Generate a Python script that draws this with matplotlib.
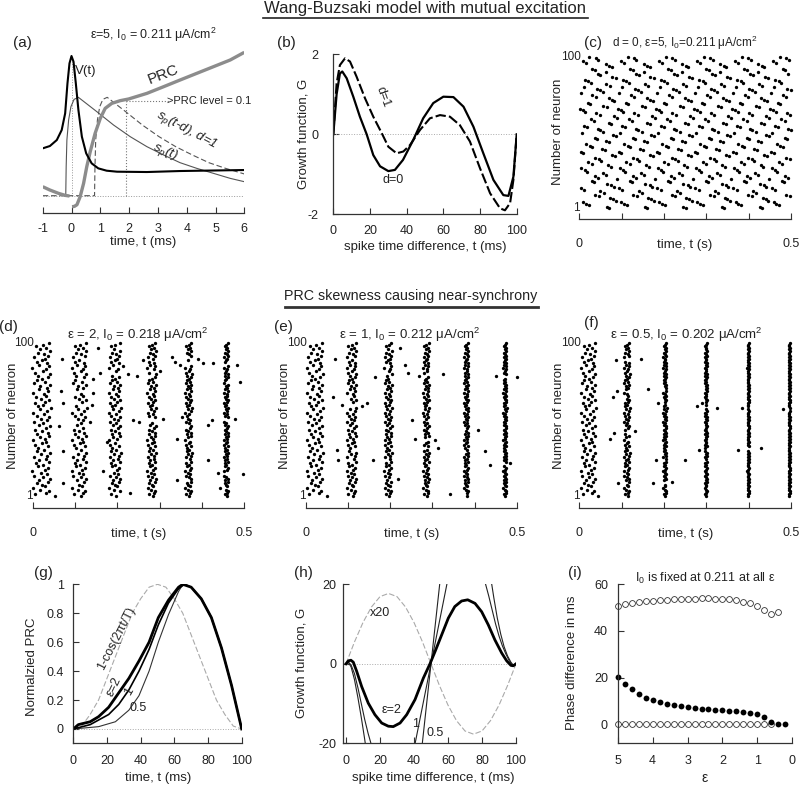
import numpy as np
from matplotlib import pyplot as plt
from matplotlib.lines import Line2D

plt.rcParams['font.family'] = ['Liberation Sans', 'DejaVu Sans']
plt.rcParams['mathtext.fontset'] = 'custom'
plt.rcParams['mathtext.rm'] = 'Liberation Sans'
plt.rcParams['mathtext.it'] = 'Liberation Sans:italic'
plt.rcParams['mathtext.default'] = 'regular'
plt.rcParams['axes.unicode_minus'] = False
plt.rcParams['text.color'] = '#222222'

# ---------------- (a) spike shape, synaptic current and PRC ----------------
v_t = [-1, -0.75, -0.51, -0.34, -0.22, -0.14, -0.07, 0, 0.07, 0.15, 0.24, 0.36,
       0.51, 0.70, 0.93, 1.22, 1.58, 2.62, 3.77, 6]
v_val = [1.42, 1.49, 1.67, 1.97, 2.47, 3.37, 3.97, 4.19, 4.02, 3.37, 2.57, 1.77,
         1.27, 0.97, 0.82, 0.75, 0.72, 0.71, 0.74, 0.77]
prc_pre_t = [-1, -0.75, -0.45, -0.22, -0.07]
prc_pre = [0.27, 0.17, 0.07, 0.01, -0.01]
prc_t = [0.02, 0.1, 0.19, 0.3, 0.42, 0.53, 0.65, 0.82, 1.0, 1.17, 1.4, 1.69,
         1.98, 2.62, 3.2, 3.77, 4.35, 4.93, 5.51, 6]
prc_val = [-0.33, -0.32, -0.27, -0.03, 0.37, 0.87, 1.32, 1.87, 2.32, 2.62, 2.77,
           2.85, 2.9, 3.07, 3.27, 3.47, 3.67, 3.87, 4.07, 4.3]
sp_t = [-2, -0.2, -0.185, -0.16, -0.1, -0.02, 0.09, 0.24, 0.88, 1.46, 2.04, 2.62,
        3.2, 3.77, 4.35, 4.93, 5.51, 6]
sp_val = [0, 0, 0.87, 1.67, 2.27, 2.67, 2.89, 2.95, 2.52, 2.12, 1.77, 1.47, 1.22,
          0.99, 0.82, 0.67, 0.52, 0.42]
delay_d = 1.0
prc_level_t = 1.9
prc_level = 2.84

# ---------------- (b) growth function for d=0 and d=1 ----------------
g0_t = [0, 1.8, 3.6, 4.9, 7.3, 10.9, 14.5, 18.2, 21.8, 25.5, 30, 33.6, 38, 43.6,
        49, 54.5, 60, 65.5, 71, 76.4, 81.8, 87.3, 92.7, 95.5, 98.2, 100]
g0_val = [0, 1.0, 1.52, 1.57, 1.4, 0.94, 0.44, 0, -0.52, -0.8, -0.92, -0.89, -0.64,
          -0.14, 0.4, 0.78, 0.94, 0.93, 0.69, 0.19, -0.475, -1.14, -1.52, -1.54,
          -1.06, 0]
g1_t = [0, 1.8, 3.6, 6.4, 9.1, 12.7, 17.3, 21.8, 26.4, 30, 34.5, 38.2, 41.8, 47.3,
        52.7, 58.2, 63.6, 69, 74.5, 80, 85.5, 90.9, 93.6, 96.4, 98.2, 100]
g1_val = [0, 1.27, 1.73, 1.9, 1.82, 1.44, 0.9, 0.44, 0.03, -0.31, -0.475, -0.43,
          -0.27, 0.11, 0.4, 0.48, 0.44, 0.23, -0.18, -0.85, -1.475, -1.85, -1.9,
          -1.72, -1.14, 0]

# ---------------- rasters ----------------
# (c): phase of each neuron (ms) inside the splay-like cycle
splay_phase_ms = [71, 66, 22, 15, 9, 86, 80, 73, 47, 38,
                  58, 50, 12, 4, 81, 76, 66, 34, 29, 89,
                  44, 37, 63, 55, 18, 13, 5, 75, 68, 29,
                  21, 52, 47, 38, 84, 77, 9, 3, 60, 53,
                  30, 25, 16, 70, 62, 41, 36, 87, 80, 6,
                  57, 49, 43, 19, 12, 76, 70, 35, 27, 88,
                  81, 48, 40, 14, 8, 1, 65, 57, 25, 20,
                  83, 77, 69, 39, 31, 3, 55, 49, 41, 10,
                  72, 64, 27, 21, 13, 86, 78, 50, 44, 62,
                  36, 30, 77, 71, 63, 15, 8, 45, 39, 24]
splay_period = 0.09

# (d)-(f): offset (ms) of each neuron from the population burst
jitter_ms = [5, -12, 9, 14, -3, -16, 7, 0, -9, 12,
             -6, 16, 3, -14, 10, -1, -18, 6, 13, -8,
             2, -11, 15, -5, 8, -15, 11, -2, 17, -10,
             4, -7, 13, -13, 1, 9, -17, 6, -4, 15,
             -9, 12, 0, -12, 8, 16, -6, 3, -15, 10,
             -2, 14, -10, 5, -16, 11, -4, 18, -8, 2,
             -13, 7, 15, -1, -11, 9, 4, -17, 13, -6,
             10, -3, 16, -14, 6, -9, 1, 12, -7, 17,
             -12, 3, 8, -18, 14, -5, 11, -10, 0, 7,
             -15, 13, 5, -8, 16, -3, 9, -11, 2, 15]

d_bursts = [0.021, 0.110, 0.194, 0.281, 0.368, 0.457]
d_spread = [1.2, 1.0, 0.8, 0.6, 0.45, 0.3]
d_outliers = {(90, 1): 0.0685, (69, 1): 0.067, (61, 1): 0.072, (46, 1): 0.063,
              (30, 1): 0.071, (9, 1): 0.071, (97, 2): 0.154, (81, 2): 0.159,
              (77, 1): 0.143, (60, 1): 0.139, (49, 1): 0.135, (68, 1): 0.143,
              (17, 2): 0.167, (36, 2): 0.175, (80, 2): 0.226, (85, 2): 0.214,
              (79, 3): 0.246, (3, 2): 0.23, (50, 3): 0.238, (49, 3): 0.25,
              (51, 3): 0.309, (82, 3): 0.301, (91, 4): 0.328, (88, 4): 0.336,
              (86, 4): 0.348, (52, 4): 0.352, (38, 4): 0.340, (11, 4): 0.340,
              (90, 4): 0.391, (87, 4): 0.403, (50, 5): 0.423, (47, 4): 0.415,
              (24, 4): 0.415, (87, 5): 0.427, (16, 5): 0.439, (6, 5): 0.443,
              (86, 5): 0.482, (75, 5): 0.49, (51, 5): 0.478, (15, 5): 0.498,
              (89, 3): 0.261, (1, 0): 0.053}

e_bursts = [0.021, 0.108, 0.195, 0.285, 0.380, 0.472]
e_spread = [1.1, 0.65, 0.5, 0.4, 0.3, 0.22]
e_outliers = {(90, 1): 0.070, (65, 1): 0.063, (60, 1): 0.085, (61, 1): 0.144,
              (59, 1): 0.132, (31, 1): 0.073, (24, 1): 0.077, (78, 2): 0.164,
              (24, 2): 0.16, (97, 2): 0.223, (86, 2): 0.235, (81, 2): 0.243,
              (50, 3): 0.251, (38, 3): 0.259, (37, 3): 0.306, (32, 3): 0.314,
              (12, 2): 0.219, (79, 3): 0.267, (80, 3): 0.326, (2, 4): 0.342,
              (44, 4): 0.409, (30, 4): 0.425, (21, 5): 0.437, (22, 5): 0.484,
              (79, 5): 0.452, (78, 5): 0.5, (1, 0): 0.049}

f_bursts = [0.021, 0.112, 0.202, 0.299, 0.399, 0.496]
f_spread = [1.0, 0.4, 0.22, 0.15, 0.1, 0.08]
f_outliers = {(89, 1): 0.0866, (90, 1): 0.146, (69, 1): 0.09, (65, 1): 0.079,
              (70, 2): 0.163, (61, 2): 0.185, (59, 3): 0.277, (61, 3): 0.289,
              (58, 3): 0.326, (58, 4): 0.385, (57, 5): 0.480, (38, 1): 0.072,
              (42, 1): 0.083, (43, 1): 0.131, (31, 3): 0.283, (31, 4): 0.376,
              (32, 4): 0.428, (24, 2): 0.181, (24, 3): 0.250, (9, 1): 0.092,
              (9, 2): 0.175, (10, 2): 0.22, (1, 0): 0.045}

# ---------------- (g) normalized PRCs ----------------
ref_t = [0, 5, 10, 15, 20, 25, 30, 35, 40, 45, 50, 55, 60, 65, 70, 75, 80, 85, 90,
         95, 100]
cos_prc = [0, 0.02, 0.1, 0.2, 0.35, 0.5, 0.65, 0.8, 0.9, 0.98, 1, 0.98, 0.9, 0.8,
           0.65, 0.5, 0.35, 0.2, 0.1, 0.02, 0]
prc2_t = [0, 3, 10, 15, 21, 27, 33, 39, 45, 50.5, 56.5, 62.5, 65, 70, 76, 82, 88, 94, 100]
prc2 = [0, 0.03, 0.05, 0.085, 0.15, 0.25, 0.35, 0.47, 0.6, 0.77, 0.89, 0.98, 1, 0.98,
        0.9, 0.77, 0.56, 0.3, 0]
prc1_t = [0, 10, 21, 27, 33, 39, 45, 50.5, 56.5, 62.5, 66, 70, 76, 82, 88, 94, 100]
prc1 = [0, 0.03, 0.1, 0.17, 0.27, 0.4, 0.55, 0.72, 0.87, 0.97, 1, 0.98, 0.9, 0.77,
        0.56, 0.3, 0]
prc05_t = [0, 15, 25, 33, 39, 45, 50.5, 56.5, 62.5, 65, 70, 76, 82, 88, 94, 100]
prc05 = [0, 0.016, 0.05, 0.13, 0.23, 0.4, 0.6, 0.79, 0.95, 1.0, 0.98, 0.9, 0.77, 0.56,
         0.3, 0]

# ---------------- (h) growth functions ----------------
x20_g = [0, 5.5, 10.4, 14.3, 16.9, 17.7, 16.9, 14.3, 10.4, 5.5, 0, -5.5, -10.4,
         -14.3, -16.9, -17.7, -16.9, -14.3, -10.4, -5.5, 0]
h2_t = [0, 1.4, 2.9, 4.3, 6.3, 9.2, 13.1, 17, 21, 24.9, 27.8, 31.8, 35.7, 40.6, 45.5,
        49.4, 52.4, 56.3, 60.2, 64, 68, 71.6, 75.9, 79.8, 83.7, 87.6, 91.6, 94.5, 97,
        98.4, 100]
h2 = [0, 0.75, 0.9, 0.4, -1.9, -5.7, -9.9, -12.8, -14.9, -15.7, -15.8, -14.9, -12.8,
      -9.0, -3.6, 0, 3.1, 7.3, 11.5, 14.4, 15.8, 16.1, 15.2, 13.1, 9.8, 6.0, 2.7, 0.75,
      -0.4, -0.5, 0]
h1_t = [0, 1.5, 3, 5, 7, 9, 11, 13, 15, 17, np.nan, 39.5, 50, 60.5, np.nan,
        81.5, 84, 86, 88, 90, 92, 94, 96, 98, 100]
h1 = [0, 0.4, -0.3, -2.5, -6, -10, -14, -17.5, -20.5, -24, np.nan, -22.5, 0, 22.5,
      np.nan, 21, 17, 13.5, 10, 7, 4.5, 2.5, 0.8, -0.4, 0]
h05_t = [0, 1.5, 3, 5, 7, 9, 11, 12, np.nan, 44, 50, 56, np.nan,
         85, 87, 89, 91, 93, 95, 97, 98.5, 100]
h05 = [0, 0.3, -0.8, -4, -8.5, -13.5, -19, -22, np.nan, -23.5, 0, 23.5, np.nan,
       22, 16.5, 11.5, 7.5, 4.3, 2, 0.4, -0.4, 0]

# ---------------- (i) phase difference vs epsilon ----------------
eps = [5, 4.8, 4.6, 4.4, 4.2, 4, 3.8, 3.6, 3.4, 3.2, 3, 2.8, 2.6, 2.4, 2.2, 2, 1.8,
       1.6, 1.4, 1.2, 1, 0.8, 0.6, 0.4, 0.2]
stable_lag = [20.2, 17.2, 15.1, 13.1, 11.5, 10.5, 9.5, 8.8, 8.3, 7.7, 7.3, 7.0, 6.7,
              6.4, 6.1, 6.0, 5.7, 5.6, 5.3, 5.0, 4.3, 3.1, 1.1, 0.1, 0]
unstable_anti = [50.6, 51.4, 51.9, 52.3, 52.7, 53.0, 53.3, 53.4, 53.6, 53.7, 53.8,
                 53.8, 54.0, 54.0, 53.8, 53.7, 53.6, 53.3, 52.6, 51.9, 50.7, 49.0,
                 47.3, 48.0]
unstable_sync = [0] * 23

W, H = 800, 786
TICK_FS = 9
LABEL_FS = 9.5
fig = plt.figure(figsize=(W / 100, H / 100), dpi=100)


def add_box(left, right, top, bottom):
    """axes from a box given in pixels of the 800x786 picture"""
    ax = fig.add_axes([left / W, 1 - bottom / H, (right - left) / W, (bottom - top) / H])
    ax.patch.set_alpha(0)
    return ax


def ftext(x, y, s, **kw):
    kw.setdefault('ha', 'center')
    kw.setdefault('va', 'center')
    kw.setdefault('fontsize', LABEL_FS)
    fig.text(x / W, 1 - y / H, s, **kw)


def tidy(ax, left=True, xpad=7.5, ypad=7):
    for side in ['top', 'right']:
        ax.spines[side].set_visible(False)
    ax.spines['left'].set_visible(left)
    for side in ['left', 'bottom']:
        ax.spines[side].set_linewidth(0.9)
        ax.spines[side].set_color('#333333')
    ax.tick_params(direction='in', length=4, width=0.8, labelsize=TICK_FS,
                   colors='#333333', labelcolor='#222222')
    ax.tick_params(axis='x', pad=xpad)
    ax.tick_params(axis='y', pad=ypad)
    if not left:
        ax.set_yticks([])


def burst_spikes(bursts, spread, outliers):
    ts, ns = [], []
    for k, (c, s) in enumerate(zip(bursts, spread)):
        for n in range(1, 101):
            ts.append(outliers.get((n, k), c + jitter_ms[n - 1] * s / 1000))
            ns.append(n)
    return ts, ns


def splay_spikes():
    ts, ns = [], []
    for n, ph in enumerate(splay_phase_ms, 1):
        t = ph / 1000
        while t < 0.5:
            ts.append(t)
            ns.append(n)
            t += splay_period
    return ts, ns


def raster(ax, ts, ns, ybottom):
    ax.plot(ts, ns, 'o', ms=2.4, color='k', mew=0, clip_on=False)
    ax.set_xlim(0, 0.5)
    ax.set_ylim(ybottom, 100)
    tidy(ax, left=False, xpad=14)
    ax.set_xticks([0, 0.1, 0.2, 0.3, 0.4, 0.5])
    ax.set_xticklabels(['0', '', '', '', '', '0.5'])
    ax.text(0.003, 100, '100', ha='right', va='center', fontsize=TICK_FS - 0.5)
    ax.text(0.0, 1, '1', ha='right', va='center', fontsize=TICK_FS - 0.5)


# ---- titles
ftext(425, 9, 'Wang-Buzsaki model with mutual excitation', fontsize=12)
fig.add_artist(Line2D([263 / W, 588 / W], [1 - 18 / H] * 2, lw=1.2, color='#222222'))
ftext(411, 296, 'PRC skewness causing near-synchrony', fontsize=10.3)
fig.add_artist(Line2D([285 / W, 538 / W], [1 - 307.5 / H] * 2, lw=2, color='#333333'))

# ---- (a)
ax = add_box(42.7, 244.3, 45, 212.7)
ax.plot([-1, 6], [0, 0], ':', color='#999999', lw=0.7)
ax.plot([0, 0], [0, 4.15], ':', color='#999999', lw=0.7)
ax.plot([prc_level_t, prc_level_t], [0, prc_level], ':', color='#777777', lw=0.8)
ax.plot([prc_level_t, 3.38], [prc_level, prc_level], ':', color='#777777', lw=0.8)
sp_t_arr = np.array(sp_t)
sp_arr = np.array(sp_val)
shown = sp_t_arr >= -1
ax.plot(sp_t_arr[shown], sp_arr[shown], color='#555555', lw=0.8)
ax.plot(sp_t_arr + delay_d, sp_arr, color='#555555', lw=0.8, dashes=(5, 2.5))
ax.plot(prc_pre_t, prc_pre, color='#8c8c8c', lw=2.4, solid_capstyle='butt')
ax.plot(prc_t, prc_val, color='#8c8c8c', lw=2.4, solid_capstyle='butt')
ax.plot(v_t, v_val, color='k', lw=1.5)
ax.set_xlim(-1, 6)
ax.set_ylim(-0.51, 4.52)
tidy(ax, left=False)
ax.set_xticks(range(-1, 7))
ax.text(0.12, 3.75, 'V(t)', fontsize=9.5, ha='left', va='center')
ax.text(3.2, 3.62, 'PRC', fontsize=11, rotation=21, ha='center', va='center')
ax.text(3.33, prc_level, '>PRC level = 0.1', fontsize=8, ha='left', va='center')
ax.text(4.0, 1.97, r'$\mathit{s_p}$(t-d), d=1', fontsize=9.5, style='italic',
        rotation=-28, ha='center', va='center')
ax.text(3.25, 1.3, r'$\mathit{s_p}$(t)', fontsize=9.5, style='italic',
        rotation=-22, ha='center', va='center')
ftext(22.7, 43.3, '(a)', fontsize=11)
ftext(153.3, 35, 'ε=5, $I_0$ = 0.211 μA/cm$^2$', fontsize=9)
ftext(143.5, 241.7, 'time, t (ms)')

# ---- (b)
ax = add_box(333.3, 516.7, 54.3, 214.3)
ax.plot([0, 100], [0, 0], ':', color='#aaaaaa', lw=0.7)
ax.plot(g1_t, g1_val, color='k', lw=1.5, dashes=(5, 1.5))
ax.plot(g0_t, g0_val, color='k', lw=1.6)
ax.set_xlim(0, 100)
ax.set_ylim(-2, 2)
tidy(ax, ypad=11)
ax.set_xticks([0, 20, 40, 60, 80, 100])
ax.set_yticks([-2, 0, 2])
ax.text(27.3, 0.94, 'd=1', fontsize=9, rotation=-70, ha='center', va='center')
ax.text(32.7, -1.14, 'd=0', fontsize=9, ha='center', va='center')
ftext(286.7, 43.3, '(b)', fontsize=11)
ftext(303.3, 134, 'Growth function, G', rotation=90)
ftext(425, 246.7, 'spike time difference, t (ms)')

# ---- (c)
ax = add_box(579.3, 791, 56.7, 219)
ts, ns = splay_spikes()
raster(ax, ts, ns, -6)
ftext(593.3, 43.3, '(c)', fontsize=11)
ftext(685, 43.3, 'd = 0, ε=5, $I_0$=0.211 μA/cm$^2$', fontsize=8.5)
ftext(558.3, 131.7, 'Number of neuron', rotation=90)
ftext(685, 245, 'time, t (s)')

# ---- (d), (e), (f)
row2 = [((32.7, 244.3), d_bursts, d_spread, d_outliers, '(d)', (8.3, 326.7),
         'ε = 2, $I_0$ = 0.218 μA/cm$^2$', 138, 12.7),
        ((306, 516.7), e_bursts, e_spread, e_outliers, '(e)', (283.3, 326.7),
         'ε = 1, $I_0$ = 0.212 μA/cm$^2$', 410, 285),
        ((579.3, 791), f_bursts, f_spread, f_outliers, '(f)', (591.7, 323.3),
         'ε = 0.5, $I_0$ = 0.202 μA/cm$^2$', 686.7, 559.3)]
for (x0, x1), bursts, spread, outl, tag, tag_xy, title, title_x, ylab_x in row2:
    ax = add_box(x0, x1, 343.3, 507.7)
    ts, ns = burst_spikes(bursts, spread, outl)
    raster(ax, ts, ns, -6.8)
    ftext(tag_xy[0], tag_xy[1], tag, fontsize=11)
    ftext(title_x, 335, title, fontsize=9.5)
    ftext(ylab_x, 416, 'Number of neuron', rotation=90)
    ftext((x0 + x1) / 2, 534, 'time, t (s)')

# ---- (g)
ax = add_box(73.3, 241.7, 584.3, 743.3)
ax.plot([0, 100], [0, 0], ':', color='#aaaaaa', lw=0.7)
ax.plot(ref_t, cos_prc, color='#aaaaaa', lw=0.8, dashes=(5, 2))
ax.plot(prc05_t, prc05, color='#333333', lw=0.8)
ax.plot(prc1_t, prc1, color='k', lw=1.2)
ax.plot(prc2_t, prc2, color='k', lw=2.0)
ax.set_xlim(0, 100)
ax.set_ylim(-0.099, 1)
tidy(ax, xpad=8.5, ypad=7)
ax.set_xticks([0, 20, 40, 60, 80, 100])
ax.set_yticks([0, 0.2, 0.4, 0.6, 0.8, 1])
ax.set_yticklabels(['0', '0.2', '0.4', '0.6', '0.8', '1'])
ax.text(25.4, 0.627, '1-cos(2πt/T)', fontsize=9, rotation=63, ha='center', va='center')
ax.text(24.2, 0.29, 'ε=2', fontsize=9, rotation=65, ha='center', va='center')
ax.text(33.1, 0.26, '1', fontsize=9, rotation=60, ha='center', va='center')
ax.text(38.6, 0.143, '0.5', fontsize=9, ha='center', va='center')
ftext(43.3, 573.3, '(g)', fontsize=11)
ftext(31.7, 666.7, 'Normalzied PRC', rotation=90)
ftext(158.3, 778.3, 'time, t (ms)')

# ---- (h)
ax = add_box(342.7, 516, 584.3, 743.3)
ax.plot([0, 100], [0, 0], ':', color='#aaaaaa', lw=0.7)
ax.plot(ref_t, x20_g, color='#aaaaaa', lw=0.8, dashes=(5, 2))
ax.plot(h05_t, h05, color='#222222', lw=0.8)
ax.plot(h1_t, h1, color='#222222', lw=0.8)
ax.plot(h2_t, h2, color='k', lw=2.0)
ax.set_xlim(-1.94, 100)
ax.set_ylim(-20, 20)
tidy(ax, xpad=8.5, ypad=4.5)
ax.set_xticks([0, 20, 40, 60, 80, 100])
ax.set_yticks([-20, 0, 20])
ax.text(20, 12.8, 'x20', fontsize=9, ha='center', va='center')
ax.text(27, -11.6, 'ε=2', fontsize=9, ha='center', va='center')
ax.text(41, -15.2, '1', fontsize=9, ha='center', va='center')
ax.text(52.4, -17.5, '0.5', fontsize=9, ha='center', va='center')
ftext(303.3, 573.3, '(h)', fontsize=11)
ftext(301.7, 663, 'Growth function, G', rotation=90)
ftext(433.3, 778.3, 'spike time difference, t (ms)')

# ---- (i)
ax = add_box(617.7, 792.3, 584.3, 742.7)
ax.plot(eps[:len(unstable_anti)], unstable_anti, 'o', ms=4.2, mfc='white',
        mec='#333333', mew=0.6, clip_on=False)
ax.plot(eps[:len(unstable_sync)], unstable_sync, 'o', ms=4.2, mfc='white',
        mec='#333333', mew=0.6, clip_on=False)
ax.plot(eps, stable_lag, 'o', ms=4.2, color='k', mew=0, clip_on=False)
ax.set_xlim(5, 0)
ax.set_ylim(-7.86, 60)
tidy(ax, xpad=8.5, ypad=7)
ax.set_xticks([5, 4, 3, 2, 1, 0])
ax.set_yticks([0, 20, 40, 60])
ftext(575, 573.3, '(i)', fontsize=11)
ftext(705, 578.3, '$I_0$ is fixed at 0.211 at all ε', fontsize=9)
ftext(571.7, 663, 'Phase difference in ms', rotation=90)
ftext(705, 778.3, 'ε', fontsize=10)

fig.savefig('out.png', dpi=100)
